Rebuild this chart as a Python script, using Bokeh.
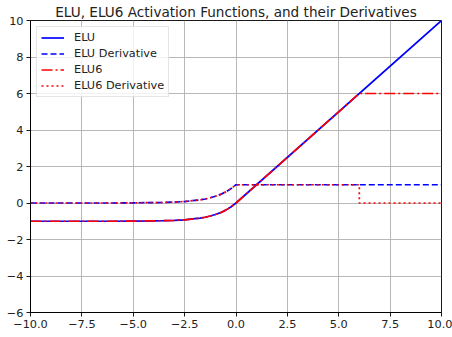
from bokeh.plotting import figure
from bokeh.models import Range1d, FixedTicker, Legend
from bokeh.embed import file_html
from bokeh.resources import INLINE

# ---- data ----
neg_x = [-10, -8, -6, -5, -4, -3.5, -3, -2.5, -2, -1.75, -1.5, -1.25, -1, -0.75, -0.5, -0.25, 0]
neg_elu = [-1.0, -1.0, -1.0, -0.99, -0.98, -0.97, -0.95, -0.92, -0.86, -0.83, -0.78, -0.71, -0.63, -0.53, -0.39, -0.22, 0.0]
neg_deriv = [0.0, 0.0, 0.0, 0.01, 0.02, 0.03, 0.05, 0.08, 0.14, 0.17, 0.22, 0.29, 0.37, 0.47, 0.61, 0.78, 1.0]

elu_x = neg_x + [10]
elu_y = neg_elu + [10]
elu_d_x = neg_x + [10]
elu_d_y = neg_deriv + [1.0]
elu6_x = neg_x + [6, 10]
elu6_y = neg_elu + [6, 6]
elu6_d_x = neg_x + [6, 6, 10]
elu6_d_y = neg_deriv + [1.0, 0.0, 0.0]

x_ticks = [-10, -7.5, -5, -2.5, 0, 2.5, 5, 7.5, 10]
x_tick_labels = ["−10.0", "−7.5", "−5.0", "−2.5", "0.0", "2.5", "5.0", "7.5", "10.0"]
y_ticks = [-6, -4, -2, 0, 2, 4, 6, 8, 10]
y_tick_labels = ["−6", "−4", "−2", "0", "2", "4", "6", "8", "10"]
title_text = "ELU, ELU6 Activation Functions, and their Derivatives"

FONT = "DejaVu Sans"
TXT = "#222222"

p = figure(width=452, height=337, output_backend="svg", toolbar_location=None,
           x_range=Range1d(-10, 10), y_range=Range1d(-6, 10),
           min_border_left=30, min_border_right=11, min_border_top=20, min_border_bottom=25,
           title=title_text)
p.title.text_font = FONT
p.title.text_font_size = "13.6px"
p.title.text_font_style = "normal"
p.title.text_color = TXT
p.title.align = "center"
p.title.standoff = 2
p.title.offset = 0
p.background_fill_color = "white"
p.border_fill_color = "white"
p.outline_line_color = "black"
p.outline_line_width = 0.9

for ax, ticks, labels in ((p.xaxis, x_ticks, x_tick_labels), (p.yaxis, y_ticks, y_tick_labels)):
    ax.ticker = FixedTicker(ticks=ticks)
    ax.major_label_overrides = {t: l for t, l in zip(ticks, labels)}
    ax.major_label_text_font = FONT
    ax.major_label_text_font_size = "11.3px"
    ax.major_label_text_color = TXT
    ax.major_label_standoff = 3
    ax.major_tick_out = 4
    ax.major_tick_in = 0
    ax.minor_tick_out = 0
    ax.minor_tick_in = 0
    ax.axis_line_color = "black"
    ax.axis_line_width = 0.9
    ax.major_tick_line_width = 0.9

p.xgrid.ticker = FixedTicker(ticks=x_ticks)
p.ygrid.ticker = FixedTicker(ticks=y_ticks)
for g in (p.xgrid, p.ygrid):
    g.grid_line_color = "#b0b0b0"
    g.grid_line_width = 0.9

r1 = p.line(elu_x, elu_y, color="#0000ff", line_width=1.7)
r2 = p.line(elu_d_x, elu_d_y, color="#0000ff", line_width=1.7, line_dash="6 3")
r3 = p.line(elu6_x, elu6_y, color="#ff0000", line_width=1.7, line_dash="11 3 2 3")
r4 = p.line(elu6_d_x, elu6_d_y, color="#ff0000", line_width=1.7, line_dash="2 3")

legend = Legend(items=[("ELU", [r1]), ("ELU Derivative", [r2]), ("ELU6", [r3]), ("ELU6 Derivative", [r4])],
                location="top_left")
legend.label_text_font = FONT
legend.label_text_font_size = "11.3px"
legend.label_text_color = TXT
legend.glyph_width = 23
legend.glyph_height = 13
legend.label_height = 13
legend.spacing = 3
legend.padding = 4
legend.margin = 6
legend.label_standoff = 10
legend.border_line_color = "#cccccc"
legend.border_line_width = 1
legend.background_fill_alpha = 0.8
p.add_layout(legend)

open("out.html", "w").write(file_html(p, INLINE))
